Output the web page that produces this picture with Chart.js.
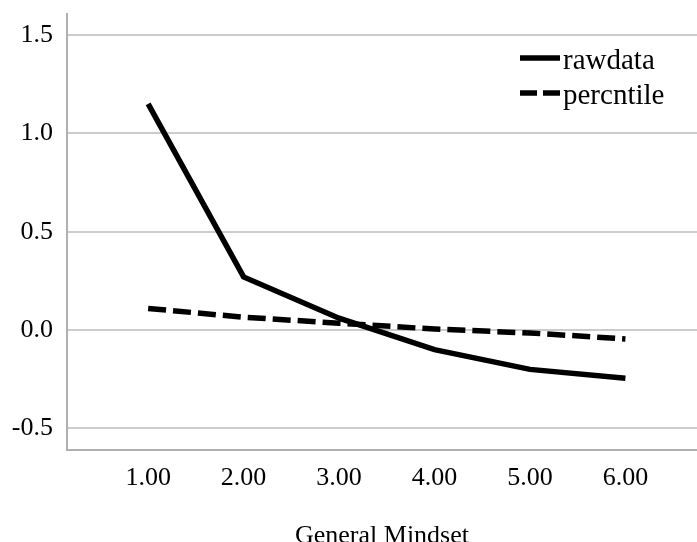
<!DOCTYPE html>
<html><head><meta charset="utf-8">
<script src="https://cdn.jsdelivr.net/npm/chart.js@4"></script>
<style>html,body{margin:0;padding:0;background:#fff}#wrap{width:697px;height:542px}</style>
</head><body><div id="wrap"><canvas id="c"></canvas></div>
<script>
const categories = [1, 2, 3, 4, 5, 6];
const rawdata = [1.15, 0.27, 0.06, -0.10, -0.20, -0.245];
const percntile = [0.11, 0.065, 0.035, 0.005, -0.015, -0.045];
const yTicks = [-0.5, 0.0, 0.5, 1.0, 1.5];
const seriesNames = ['rawdata', 'percntile'];
const xTitle = 'General Mindset';

const FONT = "'Liberation Serif', 'Times New Roman', serif";

const legendPlugin = {
  id: 'customLegend',
  afterDatasetsDraw(chart) {
    const ctx = chart.ctx;
    const items = [{name: seriesNames[0], dash: []}, {name: seriesNames[1], dash: [17, 6]}];
    ctx.save();
    items.forEach((it, i) => {
      const y = 58 + i * 35;
      ctx.strokeStyle = '#000';
      ctx.lineWidth = 5.5;
      ctx.setLineDash(it.dash);
      ctx.beginPath();
      ctx.moveTo(520, y);
      ctx.lineTo(560, y);
      ctx.stroke();
      ctx.setLineDash([]);
      ctx.fillStyle = '#000';
      ctx.font = '29px ' + FONT;
      ctx.textBaseline = 'middle';
      ctx.textAlign = 'left';
      ctx.fillText(it.name, 563, y + 3);
    });
    ctx.restore();
  }
};

new Chart(document.getElementById('c'), {
  type: 'line',
  data: {
    datasets: [
      {label: seriesNames[0], data: categories.map((x, i) => ({x, y: rawdata[i]})),
       borderColor: '#000', borderWidth: 5.5, pointRadius: 0, tension: 0, fill: false, borderCapStyle: 'butt'},
      {label: seriesNames[1], data: categories.map((x, i) => ({x, y: percntile[i]})),
       borderColor: '#000', borderWidth: 5.5, borderDash: [18, 7], pointRadius: 0, tension: 0, fill: false, borderCapStyle: 'butt'}
    ]
  },
  plugins: [legendPlugin],
  options: {
    responsive: true,
    maintainAspectRatio: false,
    animation: false,
    layout: {padding: {top: 14, right: 0, left: 0, bottom: 0}},
    plugins: {legend: {display: false}, tooltip: {enabled: false}},
    scales: {
      x: {
        type: 'linear', min: 0.15, max: 6.75,
        afterBuildTicks(s) { s.ticks = categories.map(v => ({value: v})); },
        afterFit(s) { s.height = 92; s.paddingLeft = 0; s.paddingRight = 0; },
        grid: {color: 'transparent', drawTicks: false},
        border: {display: true, color: '#b0b0b0', width: 2},
        ticks: {color: '#000', font: {family: FONT, size: 26}, padding: 13, maxRotation: 0,
                callback: v => Number(v).toFixed(2)},
        title: {display: true, text: xTitle, color: '#000', font: {family: FONT, size: 26}, padding: {top: 23, bottom: -10}}
      },
      y: {
        type: 'linear', min: -0.61, max: 1.607,
        afterBuildTicks(s) { s.ticks = yTicks.map(v => ({value: v})); },
        afterFit(s) { s.width = 67; s.paddingTop = 0; s.paddingBottom = 0; },
        grid: {color: '#cccccc', lineWidth: 2, drawTicks: false},
        border: {display: true, color: '#b0b0b0', width: 2},
        ticks: {color: '#000', font: {family: FONT, size: 26}, padding: 14,
                callback: v => Number(v).toFixed(1)}
      }
    }
  }
});
</script></body></html>
